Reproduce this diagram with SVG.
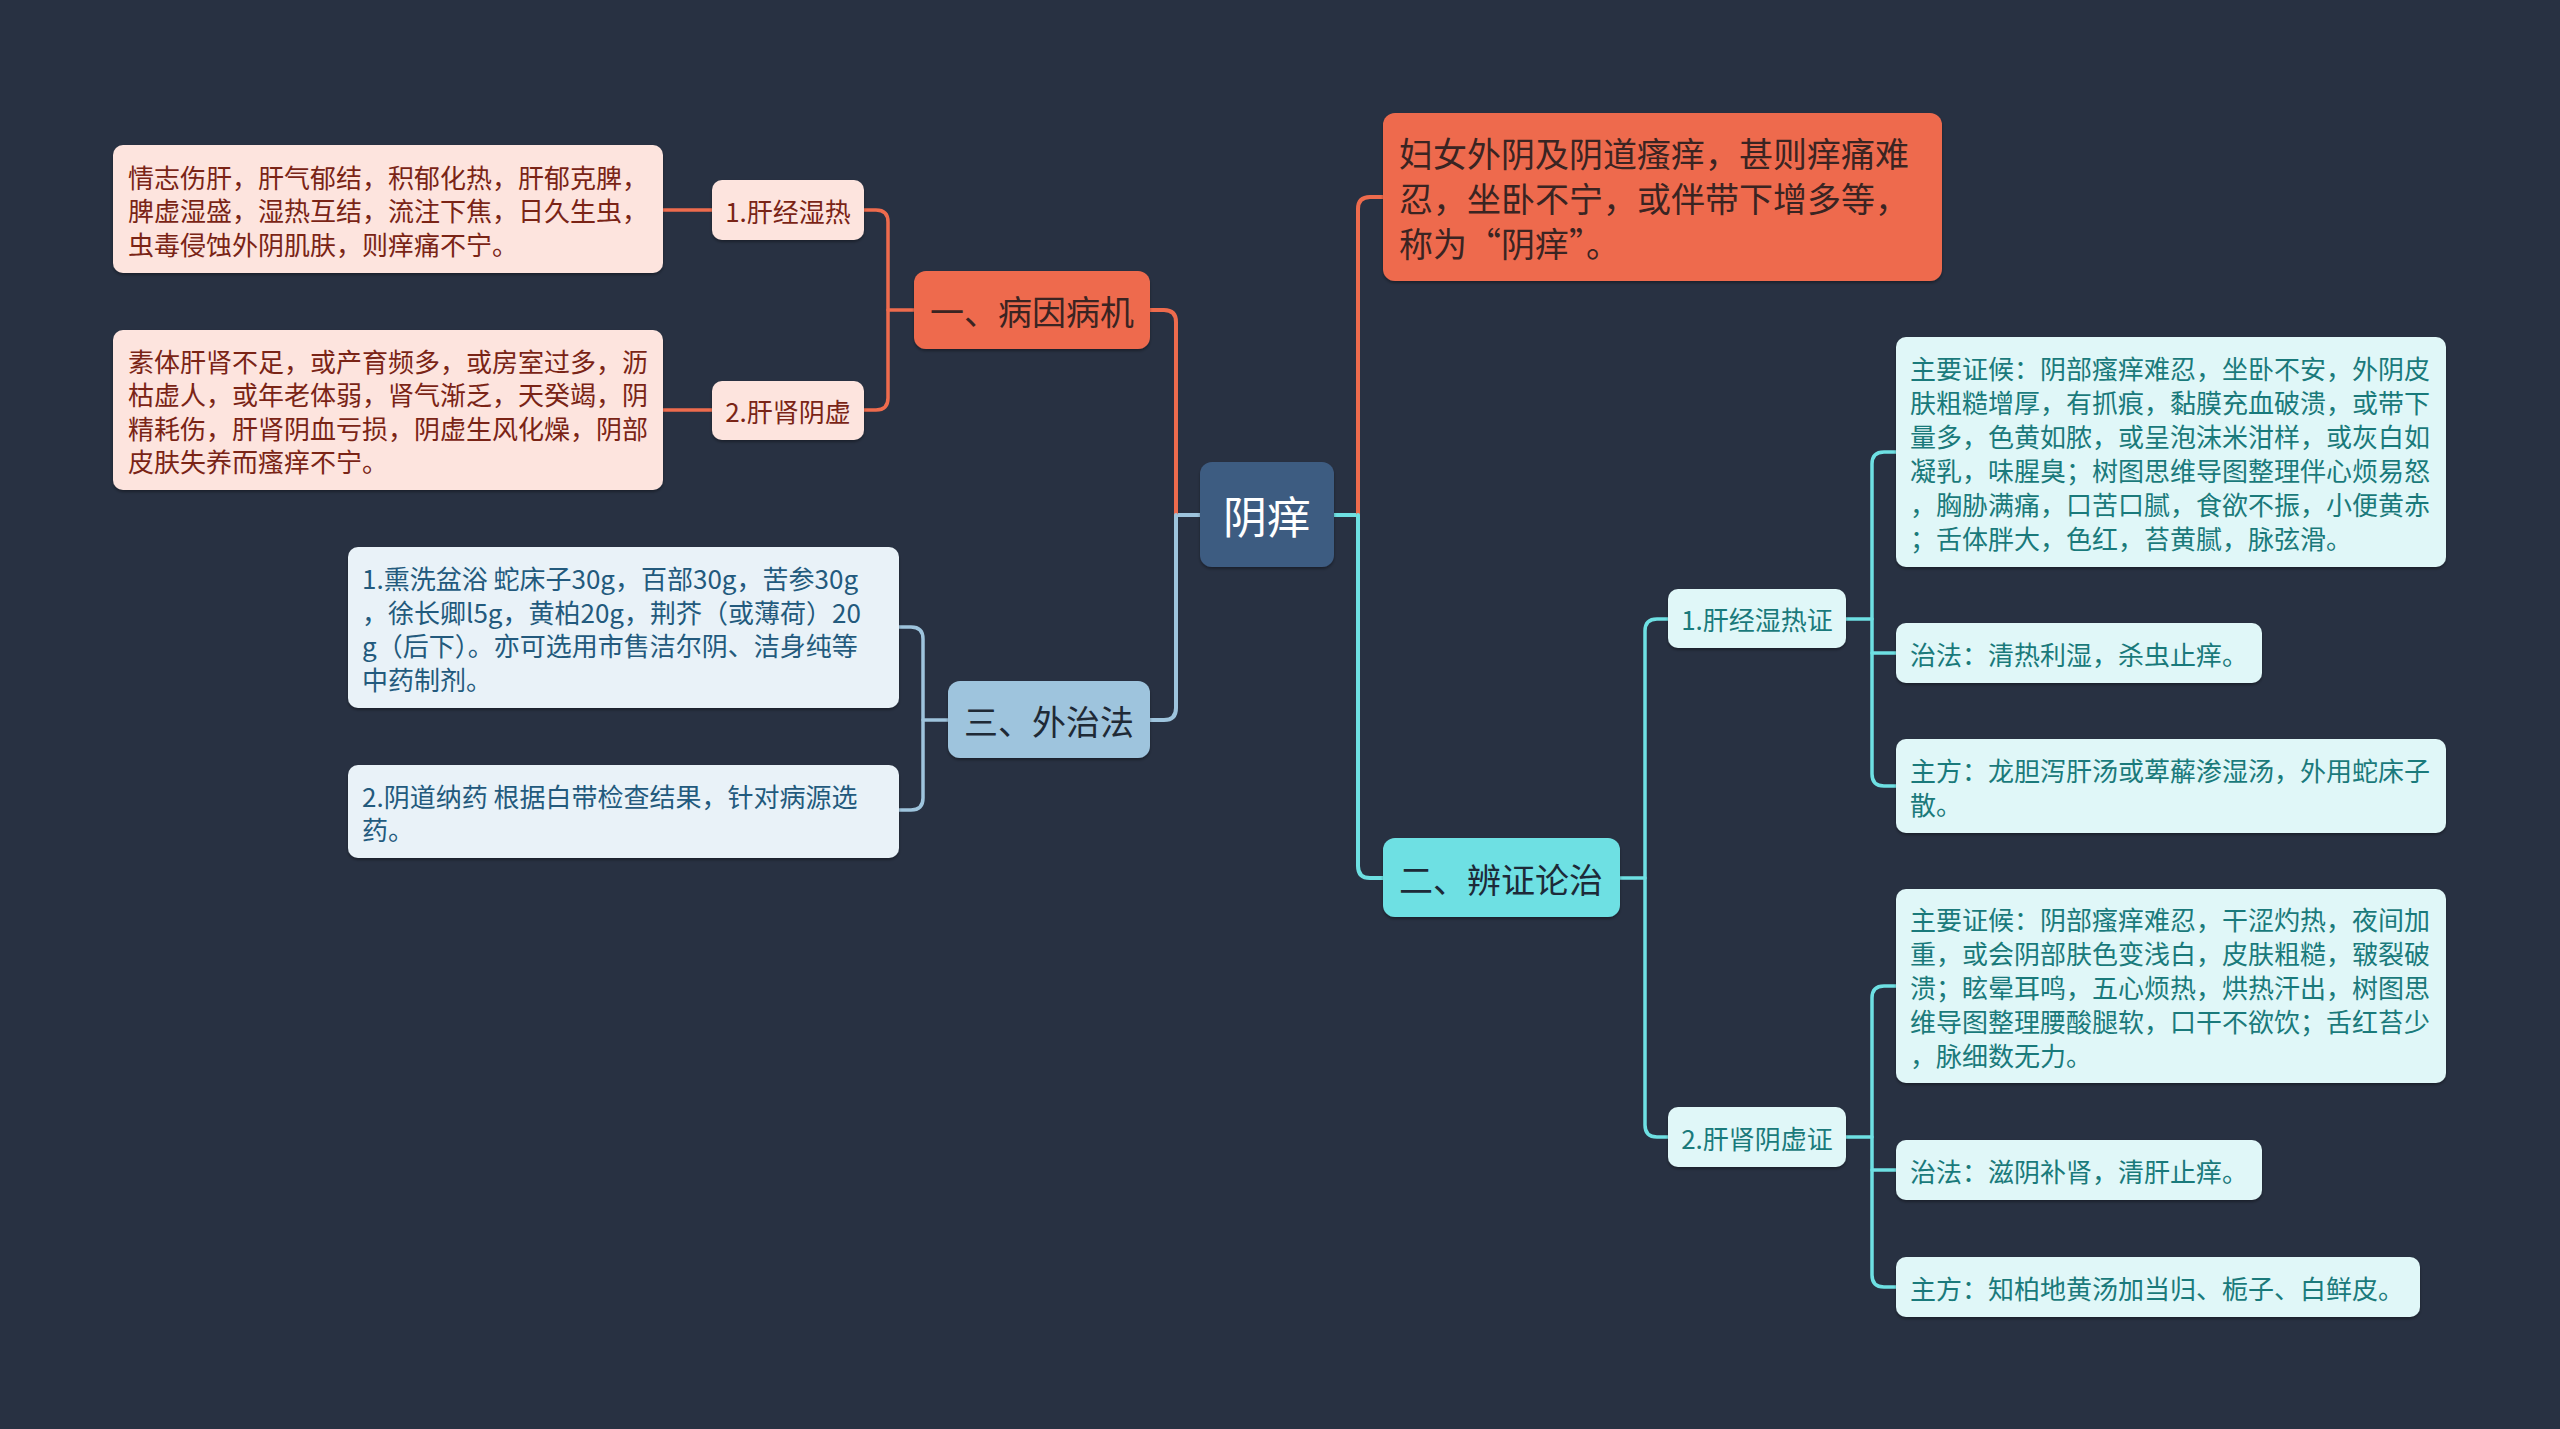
<svg xmlns="http://www.w3.org/2000/svg" width="2560" height="1429" viewBox="0 0 2560 1429">
<defs>
<filter id="sh" x="-5%" y="-5%" width="110%" height="120%">
<feDropShadow dx="0" dy="2" stdDeviation="1.5" flood-color="#000" flood-opacity="0.35"/>
</filter>
<style>
text{font-family:"Noto Sans CJK SC","Noto Sans",sans-serif;dominant-baseline:central}
.c{fill:none;stroke-linecap:round;stroke-linejoin:round}
.or{stroke:#ee6b4d}
.bl{stroke:#9ec4dd}
.cy{stroke:#6ee0e3}
.w4{stroke-width:4}
.w3{stroke-width:3.5}
.box{filter:url(#sh)}
.pk{fill:#fde4de}
.pkt{fill:#7a2416;font-size:26px}
.lb{fill:#e9f2f8}
.lbt{fill:#235a7d;font-size:26px}
.lc{fill:#e0f7f8}
.lct{fill:#1a7a7b;font-size:26px}
.big{font-size:34px}
.mid{text-anchor:middle}
</style>
</defs>
<rect width="2560" height="1429" fill="#283142"/>
<g id="connectors">
<path class="c bl w4" d="M1200 515 H1176"/>
<path class="c or w4" d="M1176 515 V322 Q1176 310 1164 310 H1150"/>
<path class="c bl w4" d="M1176 515 V708 Q1176 720 1164 720 H1150"/>
<path class="c cy w4" d="M1334 515 H1358"/>
<path class="c or w4" d="M1358 515 V209 Q1358 197 1370 197 H1383"/>
<path class="c cy w4" d="M1358 515 V866 Q1358 878 1370 878 H1383"/>
<path class="c or w3" d="M914 310 H888"/>
<path class="c or w3" d="M864 210 H876 Q888 210 888 222 V398 Q888 410 876 410 H864"/>
<path class="c or w3" d="M712 210 H663"/>
<path class="c or w3" d="M712 410 H663"/>
<path class="c bl w3" d="M948 720 H923"/>
<path class="c bl w3" d="M899 627 H911 Q923 627 923 639 V798 Q923 810 911 810 H899"/>
<path class="c cy w3" d="M1620 878 H1645"/>
<path class="c cy w3" d="M1668 619 H1657 Q1645 619 1645 631 V1125 Q1645 1137 1657 1137 H1668"/>
<path class="c cy w3" d="M1846 619 H1872"/>
<path class="c cy w3" d="M1896 452 H1884 Q1872 452 1872 464 V774 Q1872 786 1884 786 H1896"/>
<path class="c cy w3" d="M1872 653 H1896"/>
<path class="c cy w3" d="M1846 1137 H1872"/>
<path class="c cy w3" d="M1896 986 H1884 Q1872 986 1872 998 V1275 Q1872 1287 1884 1287 H1896"/>
<path class="c cy w3" d="M1872 1170 H1896"/>
</g>
<g id="n-root">
<rect class="box" x="1200" y="462" width="134" height="105" rx="12" fill="#3e5b81"/>
<text x="1267" y="515" class="mid" font-size="44" fill="#ffffff">阴痒</text>
</g>
<g id="n-byjj">
<rect class="box" x="914" y="271" width="236" height="78" rx="12" fill="#ee6b4d"/>
<text x="1032" y="310" class="mid big" fill="#3a2422">一、病因病机</text>
</g>
<g id="n-wzf">
<rect class="box" x="948" y="681" width="202" height="77" rx="12" fill="#9ec4dd"/>
<text x="1049" y="720" class="mid big" fill="#1f2a36">三、外治法</text>
</g>
<g id="n-def">
<rect class="box" x="1383" y="113" width="559" height="168" rx="12" fill="#ee6b4d"/>
<text class="big" fill="#3a2422"><tspan x="1399" y="152">妇女外阴及阴道瘙痒，甚则痒痛难</tspan><tspan x="1399" y="197">忍，坐卧不宁，或伴带下增多等，</tspan><tspan x="1399" y="242">称为“阴痒”。</tspan></text>
</g>
<g id="n-bzlz">
<rect class="box" x="1383" y="838" width="237" height="79" rx="12" fill="#6ee0e3"/>
<text x="1501" y="878" class="mid big" fill="#1d2a38">二、辨证论治</text>
</g>
<g id="n-gjsr">
<rect class="box pk" x="712" y="180" width="152" height="60" rx="10"/>
<text x="788" y="210" class="mid pkt">1.肝经湿热</text>
</g>
<g id="n-gsyx">
<rect class="box pk" x="712" y="381" width="152" height="59" rx="10"/>
<text x="788" y="410" class="mid pkt">2.肝肾阴虚</text>
</g>
<g id="n-d1">
<rect class="box pk" x="113" y="145" width="550" height="128" rx="10"/>
<text class="pkt"><tspan x="128" y="175.5">情志伤肝，肝气郁结，积郁化热，肝郁克脾，</tspan><tspan x="128" y="209">脾虚湿盛，湿热互结，流注下焦，日久生虫，</tspan><tspan x="128" y="242.5">虫毒侵蚀外阴肌肤，则痒痛不宁。</tspan></text>
</g>
<g id="n-d2">
<rect class="box pk" x="113" y="330" width="550" height="160" rx="10"/>
<text class="pkt"><tspan x="128" y="359.75">素体肝肾不足，或产育频多，或房室过多，沥</tspan><tspan x="128" y="393.25">枯虚人，或年老体弱，肾气渐乏，天癸竭，阴</tspan><tspan x="128" y="426.75">精耗伤，肝肾阴血亏损，阴虚生风化燥，阴部</tspan><tspan x="128" y="460.25">皮肤失养而瘙痒不宁。</tspan></text>
</g>
<g id="n-xx">
<rect class="box lb" x="348" y="547" width="551" height="161" rx="10"/>
<text class="lbt"><tspan x="362" y="577.25">1.熏洗盆浴 蛇床子30g，百部30g，苦参30g</tspan><tspan x="362" y="610.75">，徐长卿l5g，黄柏20g，荆芥（或薄荷）20</tspan><tspan x="362" y="644.25">g（后下）。亦可选用市售洁尔阴、洁身纯等</tspan><tspan x="362" y="677.75">中药制剂。</tspan></text>
</g>
<g id="n-yd">
<rect class="box lb" x="348" y="765" width="551" height="93" rx="10"/>
<text class="lbt"><tspan x="362" y="794.75">2.阴道纳药 根据白带检查结果，针对病源选</tspan><tspan x="362" y="828.25">药。</tspan></text>
</g>
<g id="n-r1">
<rect class="box lc" x="1668" y="589" width="178" height="59" rx="10"/>
<text x="1757" y="618.5" class="mid lct">1.肝经湿热证</text>
</g>
<g id="n-r2">
<rect class="box lc" x="1668" y="1107" width="178" height="60" rx="10"/>
<text x="1757" y="1137" class="mid lct">2.肝肾阴虚证</text>
</g>
<g id="n-r1a">
<rect class="box lc" x="1896" y="337" width="550" height="230" rx="10"/>
<text class="lct"><tspan x="1910" y="367">主要证候：阴部瘙痒难忍，坐卧不安，外阴皮</tspan><tspan x="1910" y="401">肤粗糙增厚，有抓痕，黏膜充血破溃，或带下</tspan><tspan x="1910" y="435">量多，色黄如脓，或呈泡沫米泔样，或灰白如</tspan><tspan x="1910" y="469">凝乳，味腥臭；树图思维导图整理伴心烦易怒</tspan><tspan x="1910" y="503">，胸胁满痛，口苦口腻，食欲不振，小便黄赤</tspan><tspan x="1910" y="537">；舌体胖大，色红，苔黄腻，脉弦滑。</tspan></text>
</g>
<g id="n-r1b">
<rect class="box lc" x="1896" y="623" width="366" height="60" rx="10"/>
<text x="1910" y="653" class="lct">治法：清热利湿，杀虫止痒。</text>
</g>
<g id="n-r1c">
<rect class="box lc" x="1896" y="739" width="550" height="94" rx="10"/>
<text class="lct"><tspan x="1910" y="769">主方：龙胆泻肝汤或萆薢渗湿汤，外用蛇床子</tspan><tspan x="1910" y="803">散。</tspan></text>
</g>
<g id="n-r2a">
<rect class="box lc" x="1896" y="889" width="550" height="194" rx="10"/>
<text class="lct"><tspan x="1910" y="918">主要证候：阴部瘙痒难忍，干涩灼热，夜间加</tspan><tspan x="1910" y="952">重，或会阴部肤色变浅白，皮肤粗糙，皲裂破</tspan><tspan x="1910" y="986">溃；眩晕耳鸣，五心烦热，烘热汗出，树图思</tspan><tspan x="1910" y="1020">维导图整理腰酸腿软，口干不欲饮；舌红苔少</tspan><tspan x="1910" y="1054">，脉细数无力。</tspan></text>
</g>
<g id="n-r2b">
<rect class="box lc" x="1896" y="1140" width="366" height="60" rx="10"/>
<text x="1910" y="1170" class="lct">治法：滋阴补肾，清肝止痒。</text>
</g>
<g id="n-r2c">
<rect class="box lc" x="1896" y="1257" width="524" height="60" rx="10"/>
<text x="1910" y="1287" class="lct">主方：知柏地黄汤加当归、栀子、白鲜皮。</text>
</g>
</svg>
